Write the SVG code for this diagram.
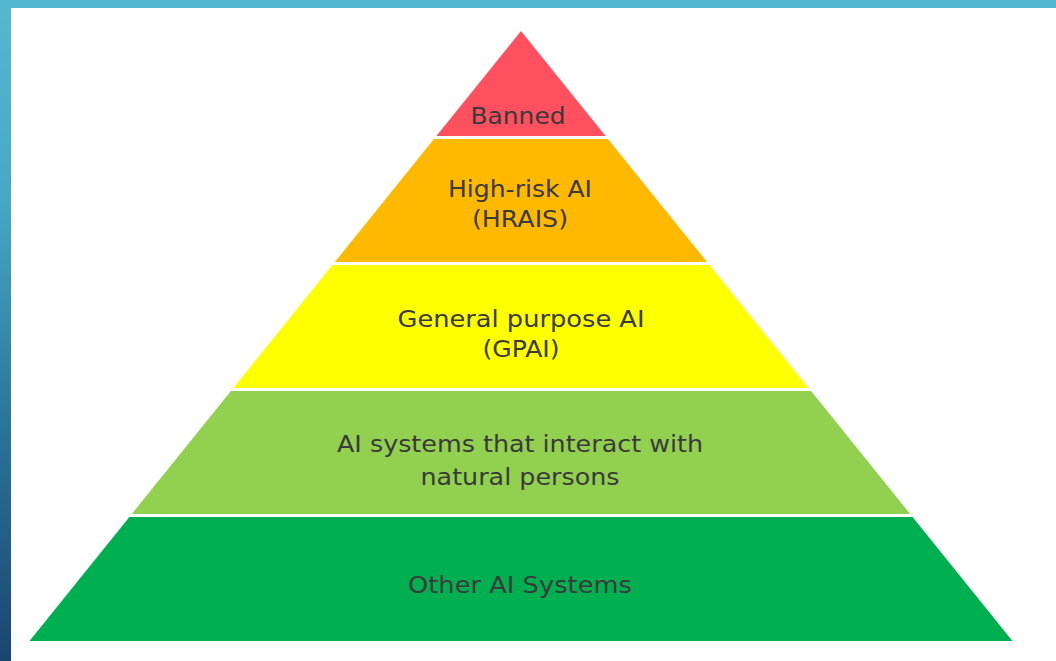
<svg xmlns="http://www.w3.org/2000/svg" width="1056" height="661" viewBox="0 0 1056 661">
  <defs>
    <linearGradient id="leftGrad" x1="0" y1="0" x2="0" y2="1">
      <stop offset="0" stop-color="#52B9D1"/>
      <stop offset="0.3" stop-color="#45A9C3"/>
      <stop offset="0.65" stop-color="#2A7499"/>
      <stop offset="1" stop-color="#1A4670"/>
    </linearGradient>
    <style>
      .lbl { font-family: "DejaVu Sans", "Liberation Sans", sans-serif; font-size: 23px; fill: #3a3a3a; text-anchor: middle; }
    </style>
  </defs>

  <rect x="0" y="0" width="1056" height="661" fill="url(#leftGrad)"/>
  <rect x="0" y="0" width="1056" height="8" fill="#52B8D0"/>
  <rect x="11" y="8" width="1045" height="653" fill="#FFFFFF"/>

  <g id="banned">
    <polygon points="521,31 605.6,136 436.4,136" fill="#FF505F"/>
    <text class="lbl" x="518" y="124" textLength="95" lengthAdjust="spacingAndGlyphs">Banned</text>
  </g>

  <g id="high-risk">
    <polygon points="434,139 608,139 707.1,262 334.9,262" fill="#FFB900"/>
    <text class="lbl" x="520" y="197" textLength="144" lengthAdjust="spacingAndGlyphs">High-risk AI</text>
    <text class="lbl" x="520" y="227" textLength="96" lengthAdjust="spacingAndGlyphs">(HRAIS)</text>
  </g>

  <g id="gpai">
    <polygon points="332.5,265 709.5,265 808.6,388 233.4,388" fill="#FFFF00"/>
    <text class="lbl" x="521" y="327" textLength="247" lengthAdjust="spacingAndGlyphs">General purpose AI</text>
    <text class="lbl" x="521" y="357" textLength="77" lengthAdjust="spacingAndGlyphs">(GPAI)</text>
  </g>

  <g id="interact">
    <polygon points="230.9,391 811.1,391 910.2,514 131.8,514" fill="#92D050"/>
    <text class="lbl" x="520" y="452" textLength="366" lengthAdjust="spacingAndGlyphs">AI systems that interact with</text>
    <text class="lbl" x="520" y="485" textLength="199" lengthAdjust="spacingAndGlyphs">natural persons</text>
  </g>

  <g id="other">
    <polygon points="129.4,517 912.6,517 1012.5,641 29.5,641" fill="#00B050"/>
    <text class="lbl" x="520" y="593" textLength="224" lengthAdjust="spacingAndGlyphs">Other AI Systems</text>
  </g>

  <g id="connectors"></g>
</svg>
